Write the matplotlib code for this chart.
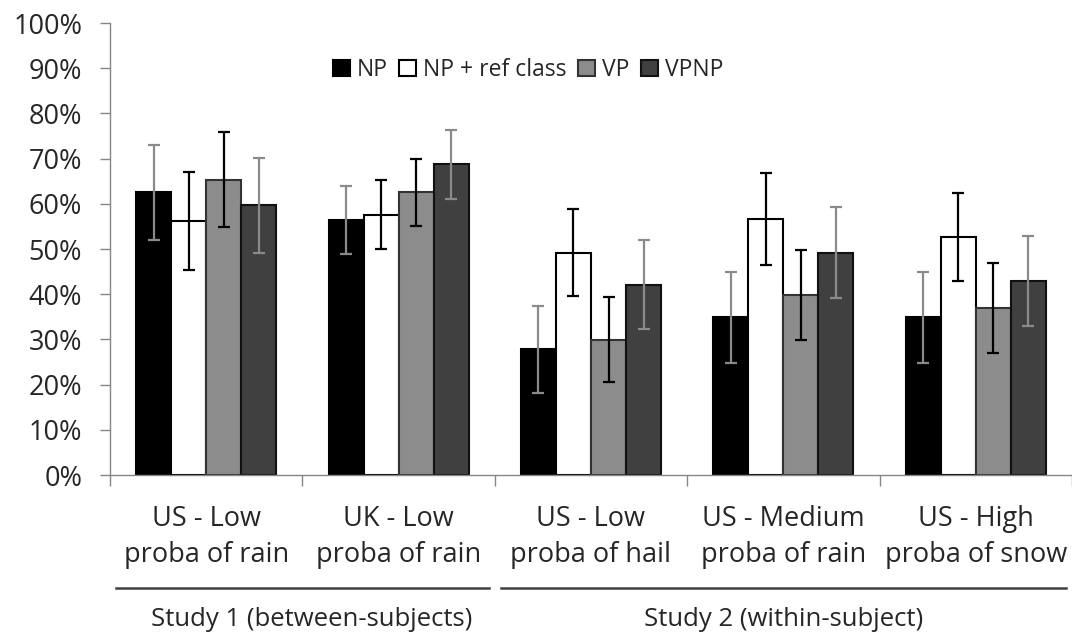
import matplotlib.pyplot as plt
import numpy as np
from matplotlib.ticker import FixedLocator, PercentFormatter

# Data (percent of participants)
categories = ["US - Low\nproba of rain", "UK - Low\nproba of rain", "US - Low\nproba of hail",
              "US - Medium\nproba of rain", "US - High\nproba of snow"]
series = ["NP", "NP + ref class", "VP", "VPNP"]
np_vals = [62.6, 56.4, 27.8, 34.9, 34.9]
np_err = [10.5, 7.6, 9.6, 10.1, 10.1]
npref_vals = [56.2, 57.6, 49.2, 56.7, 52.7]
npref_err = [10.8, 7.6, 9.6, 10.2, 9.7]
vp_vals = [65.3, 62.5, 29.9, 39.8, 37.0]
vp_err = [10.5, 7.5, 9.4, 10.0, 10.0]
vpnp_vals = [59.7, 68.7, 42.1, 49.2, 42.9]
vpnp_err = [10.5, 7.6, 9.8, 10.0, 9.9]
studies = ["Study 1 (between-subjects)", "Study 2 (within-subject)"]
study_groups = [(0, 1), (2, 4)]

plt.rcParams['font.family'] = ['Open Sans', 'DejaVu Sans']

fig = plt.figure(figsize=(10.72, 6.33), dpi=100)
ax = fig.add_axes([110 / 1072, 158 / 633, 962 / 1072, 452 / 633])

x = np.arange(len(categories))
w = 0.182
face = ['#000000', '#ffffff', '#8c8c8c', '#404040']
edge = ['#000000', '#000000', '#333333', '#111111']
ecol = ['#8a8a8a', '#000000', '#000000', '#8a8a8a']
vals = [np_vals, npref_vals, vp_vals, vpnp_vals]
errs = [np_err, npref_err, vp_err, vpnp_err]

handles = []
for i in range(4):
    pos = x + (i - 1.5) * w
    b = ax.bar(pos, vals[i], width=w, color=face[i], edgecolor=edge[i], linewidth=1.5,
               label=series[i], zorder=2)
    ax.errorbar(pos, vals[i], yerr=errs[i], fmt='none', ecolor=ecol[i], elinewidth=1.6,
                capsize=4.5, capthick=1.6, zorder=3)
    handles.append(b)

ax.set_xlim(-0.5, len(categories) - 0.5)
ax.set_ylim(0, 100)
ax.yaxis.set_major_locator(FixedLocator(np.arange(0, 101, 10)))
ax.yaxis.set_major_formatter(PercentFormatter(decimals=0))
ax.tick_params(axis='y', length=7, width=1, color='#868686', pad=13, labelsize=19.5,
               labelcolor='#262626')

ax.set_xticks(np.arange(-0.5, len(categories), 1.0))
ax.set_xticklabels([])
ax.tick_params(axis='x', length=8, width=1, color='#868686')

for s in ['top', 'right']:
    ax.spines[s].set_visible(False)
for s in ['left', 'bottom']:
    ax.spines[s].set_color('#868686')
    ax.spines[s].set_linewidth(1)

for i, c in enumerate(categories):
    ax.annotate(c, xy=(i, 0), xycoords=('data', 'axes fraction'), xytext=(0, -62),
                textcoords='offset pixels', ha='center', va='center', fontsize=19.5,
                color='#262626', linespacing=1.4)

# study brackets
for (a, b2), name in zip(study_groups, studies):
    ax.plot([a - 0.47, b2 + 0.47], [-0.25, -0.25], transform=ax.get_xaxis_transform(),
            color='#404040', lw=1.8, clip_on=False)
    ax.annotate(name, xy=((a + b2) / 2 + (0.05 if a == 0 else 0), 0),
                xycoords=('data', 'axes fraction'), xytext=(0, -145),
                textcoords='offset pixels', ha='center', va='center', fontsize=18.5,
                color='#262626')

ax.legend(handles=handles, loc='center', bbox_to_anchor=(0.4345, 0.896), ncol=4,
          frameon=False, fontsize=16.5, handlelength=0.75, handleheight=0.75,
          handletextpad=0.3, columnspacing=0.5, labelcolor='#262626')

fig.savefig('out.png', dpi=100)
